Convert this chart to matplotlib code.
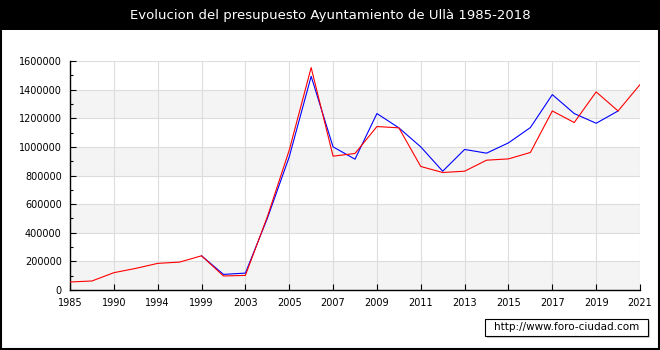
#!/usr/bin/env python3
#
# presupuesto Ullà, rojo = ingresos, azul = gastos

import numpy as np
import matplotlib
matplotlib.use("Agg")
import matplotlib.pyplot as plt
from matplotlib.patches import Rectangle

years = ["1985", "1987", "1990", "1992", "1994", "1997", "1999", "2001",
         "2003", "2004", "2005", "2006", "2007", "2008", "2009", "2010",
         "2011", "2012", "2013", "2014", "2015", "2016", "2017", "2018",
         "2019", "2020", "2021"]

red = [56000, 63000, 121000, 151000, 186000, 195000, 239000, 98000,
       102000, 511000, 977000, 1554000, 935000, 954000, 1142000, 1133000,
       863000, 821000, 830000, 907000, 916000, 961000, 1251000, 1170000,
       1384000, 1251000, 1435000]

blue = [np.nan, np.nan, np.nan, np.nan, np.nan, np.nan, 239000, 109000,
        118000, 500000, 930000, 1493000, 1000000, 914000, 1233000, 1133000,
        1000000, 830000, 982000, 956000, 1028000, 1135000, 1365000, 1233000,
        1165000, 1251000, np.nan]

title = "Evolucion del presupuesto Ayuntamiento de Ullà 1985-2018"
yticks = list(range(0, 1600001, 200000))

W, H = 660, 350
fig = plt.figure(figsize=(W / 100, H / 100), dpi=100)
fig.patch.set_facecolor("white")

# title bar
fig.patches.append(Rectangle((0, 1 - 30 / H), 1, 30 / H, transform=fig.transFigure,
                             facecolor="black", edgecolor="none", zorder=0))
fig.text(0.5, 1 - 15 / H, title, color="white", ha="center", va="center", fontsize=9.5)

# outer frame
fig.patches.append(Rectangle((1 / W, 1 / H), (W - 2) / W, (H - 2) / H, transform=fig.transFigure,
                             facecolor="none", edgecolor="black", lw=1.5, zorder=5))

ax = fig.add_axes([70 / W, (H - 290) / H, 570 / W, 229 / H])
x = np.arange(len(years))

for i in range(0, len(yticks) - 1, 2):
    ax.axhspan(yticks[i], yticks[i + 1], color="#f4f4f4", lw=0, zorder=0)

ax.plot(x, blue, color="#0000ff", lw=0.8, zorder=3)
ax.plot(x, red, color="#ff0000", lw=0.8, zorder=4)

ax.set_xlim(0, len(years) - 1)
ax.set_ylim(0, 1600000)
ax.set_xticks(x[::2])
ax.set_xticklabels(years[::2])
ax.set_yticks(yticks)
ax.set_yticklabels([str(v) for v in yticks])
ax.set_yticks(range(100000, 1600000, 200000), minor=True)

ax.grid(True, which="major", color="#dddddd", lw=0.8, zorder=1)
ax.set_axisbelow(True)
for s in ["top", "right"]:
    ax.spines[s].set_visible(False)
for s in ["left", "bottom"]:
    ax.spines[s].set_color("black")
    ax.spines[s].set_linewidth(1.0)

ax.tick_params(which="major", direction="in", length=4.5, width=0.8, labelsize=7, pad=6)
ax.tick_params(axis="y", which="minor", direction="in", length=2.5, width=0.8)

# watermark box with shadow
bx, by, bw, bh = 485, 319, 163, 17
fig.patches.append(Rectangle(((bx + 2) / W, (H - by - bh - 2) / H), bw / W, bh / H,
                             transform=fig.transFigure, facecolor="#cccccc", edgecolor="none", zorder=2))
fig.patches.append(Rectangle((bx / W, (H - by - bh) / H), bw / W, bh / H,
                             transform=fig.transFigure, facecolor="white", edgecolor="black",
                             lw=0.8, zorder=3))
fig.text((bx + bw / 2) / W, (H - by - bh / 2) / H, "http://www.foro-ciudad.com",
         ha="center", va="center", fontsize=7.5, zorder=4)

plt.savefig("out.png", dpi=100)
